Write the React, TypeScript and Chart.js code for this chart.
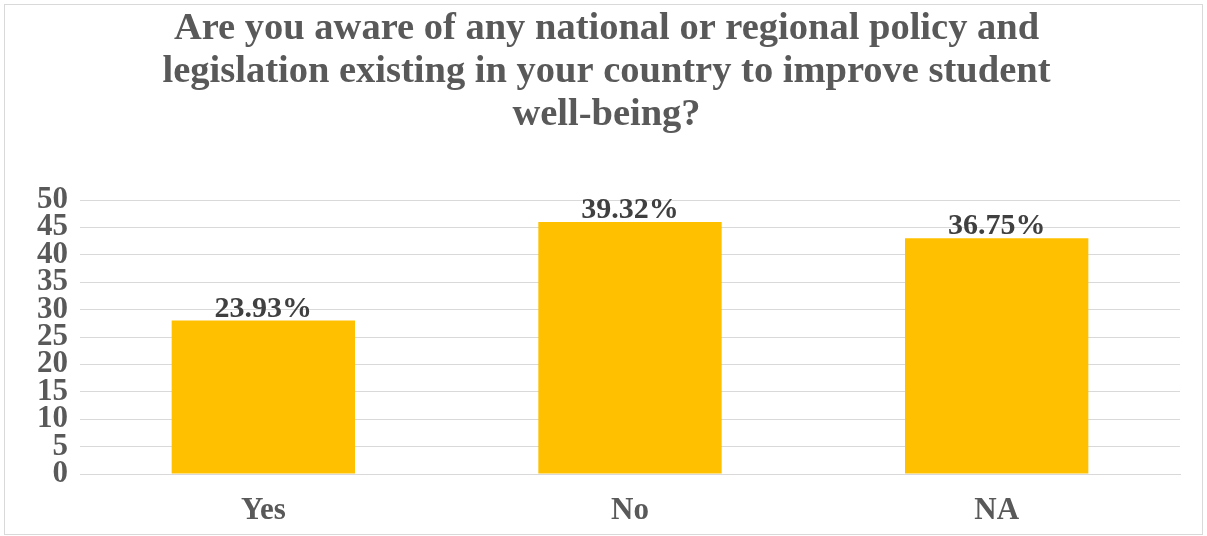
import React, { useEffect, useRef } from "react";
import { Chart, registerables } from "chart.js";

Chart.register(...registerables);

const categories = ["Yes", "No", "NA"];
const counts = [28, 46, 43];
const percentLabels = ["23.93%", "39.32%", "36.75%"];
const titleLines = [
  "Are you aware of any national or regional policy and",
  "legislation existing in your country to improve student",
  "well-being?",
];

const FONT = "'Liberation Serif', 'Times New Roman', serif";

const borderPlugin = {
  id: "outerBorder",
  beforeDraw(chart: any) {
    const ctx = chart.ctx;
    ctx.save();
    ctx.fillStyle = "#ffffff";
    ctx.fillRect(0, 0, chart.width, chart.height);
    ctx.strokeStyle = "#d9d9d9";
    ctx.lineWidth = 1;
    ctx.strokeRect(4.5, 4.5, chart.width - 9, chart.height - 6);
    ctx.restore();
  },
};

const labelPlugin = {
  id: "barLabels",
  afterDatasetsDraw(chart: any) {
    const ctx = chart.ctx;
    const meta = chart.getDatasetMeta(0);
    ctx.save();
    ctx.font = `bold 30px ${FONT}`;
    ctx.fillStyle = "#404040";
    ctx.textAlign = "center";
    ctx.textBaseline = "alphabetic";
    meta.data.forEach((bar: any, i: number) => {
      ctx.fillText(percentLabels[i], bar.x, bar.y - 4);
    });
    ctx.restore();
  },
};

export default function App() {
  const ref = useRef<HTMLCanvasElement | null>(null);
  useEffect(() => {
    document.body.style.margin = "0";
    if (!ref.current) return;
    const chart = new Chart(ref.current, {
      type: "bar",
      data: {
        labels: categories,
        datasets: [
          {
            data: counts,
            backgroundColor: "#FFC000",
            categoryPercentage: 1,
            barPercentage: 0.5,
          },
        ],
      },
      options: {
        animation: false,
        responsive: false,
        layout: { padding: { left: 33, right: 27, top: 0, bottom: 0 } },
        plugins: {
          legend: { display: false },
          tooltip: { enabled: false },
          title: {
            display: true,
            text: titleLines,
            color: "#595959",
            font: { family: FONT, size: 38.5, weight: "bold", lineHeight: 1.117 },
            padding: { top: 8, bottom: 63 },
          },
        },
        scales: {
          x: {
            grid: { display: false, drawTicks: false },
            border: { color: "#d9d9d9" },
            ticks: {
              color: "#595959",
              font: { family: FONT, size: 31, weight: "bold" },
              padding: 18,
            },
            afterFit(axis: any) {
              axis.height = 62;
            },
          },
          y: {
            min: 0,
            max: 50,
            grid: { color: "#d9d9d9", drawTicks: false },
            border: { display: false },
            ticks: {
              stepSize: 5,
              autoSkip: false,
              color: "#595959",
              font: { family: FONT, size: 31, weight: "bold" },
              padding: 12,
            },
            afterFit(axis: any) {
              axis.width = 47;
            },
          },
        },
      },
      plugins: [borderPlugin, labelPlugin],
    });
    return () => chart.destroy();
  }, []);
  return <canvas ref={ref} width={1207} height={536} style={{ display: "block" }} />;
}
